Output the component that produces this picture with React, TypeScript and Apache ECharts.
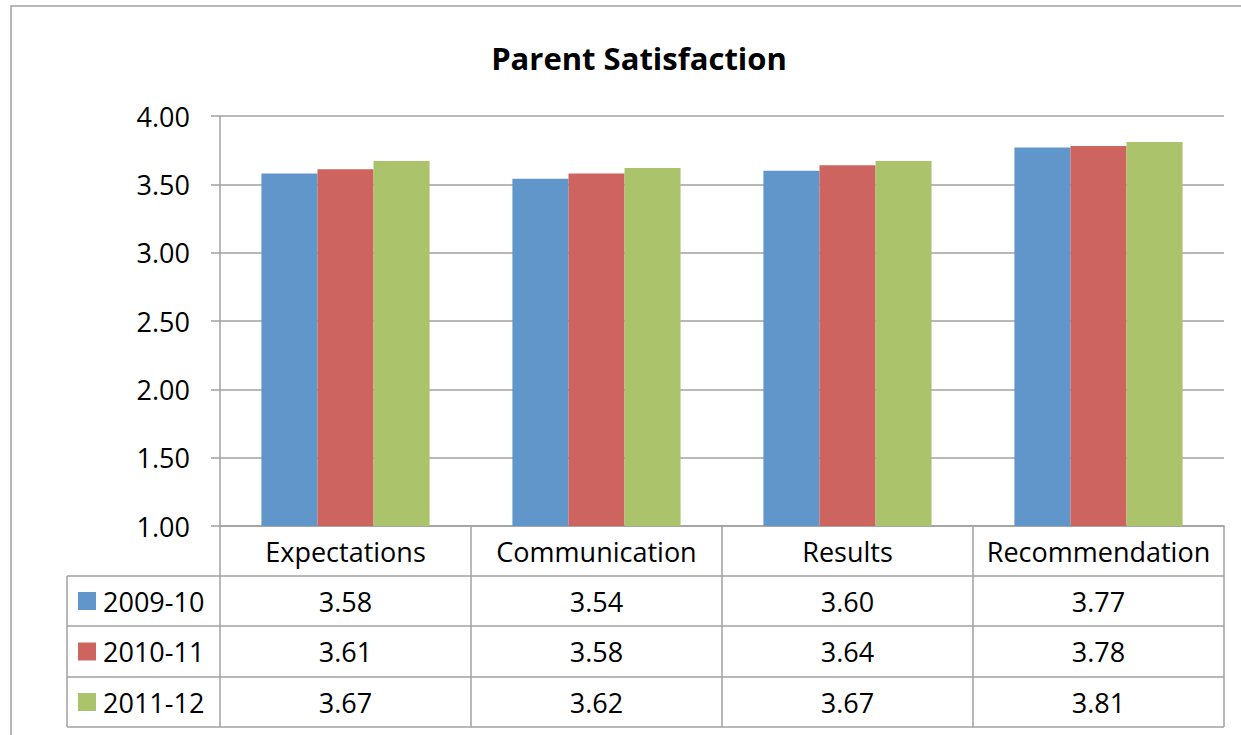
import React, { useEffect, useRef } from "react";
import * as echarts from "echarts";

const categories = ["Expectations", "Communication", "Results", "Recommendation"];
const seriesNames = ["2009-10", "2010-11", "2011-12"];
const values2009 = [3.58, 3.54, 3.6, 3.77];
const values2010 = [3.61, 3.58, 3.64, 3.78];
const values2011 = [3.67, 3.62, 3.67, 3.81];
const seriesValues = [values2009, values2010, values2011];
const colors = ["#6096C9", "#CD6460", "#ABC46B"];
const yTicks = { min: 1, max: 4, interval: 0.5 };

const FONT = "'Open Sans', sans-serif";
const FS = 27;
const GRID_L = 220;
const GRID_R = 1224;
const GRID_T = 116;
const GRID_B = 526;
const TABLE_L = 67;
const ROW_Y = [576, 626, 677, 727];
const LINE = "#A0A0A0";

export default function App() {
  const ref = useRef<HTMLDivElement>(null);
  useEffect(() => {
    if (!ref.current) return;
    const chart = echarts.init(ref.current, undefined, { renderer: "svg" });
    const band = (GRID_R - GRID_L) / categories.length;
    const graphics: any[] = [];
    graphics.push({
      type: "rect",
      shape: { x: 11, y: 6, width: 1247, height: 760 },
      style: { fill: "none", stroke: LINE, lineWidth: 1.5 },
      silent: true,
    });
    ROW_Y.forEach((y) => {
      graphics.push({
        type: "line",
        shape: { x1: TABLE_L, y1: y, x2: GRID_R, y2: y },
        style: { stroke: LINE, lineWidth: 1.5 },
        silent: true,
      });
    });
    graphics.push({
      type: "line",
      shape: { x1: TABLE_L, y1: ROW_Y[0], x2: TABLE_L, y2: ROW_Y[3] },
      style: { stroke: LINE, lineWidth: 1.5 },
      silent: true,
    });
    seriesNames.forEach((name, i) => {
      const cy = (ROW_Y[i] + ROW_Y[i + 1]) / 2;
      graphics.push({
        type: "rect",
        shape: { x: 78, y: cy - 9, width: 18, height: 18 },
        style: { fill: colors[i] },
        silent: true,
      });
      graphics.push({
        type: "text",
        x: 103,
        y: cy,
        style: {
          text: name,
          font: `${FS}px ${FONT}`,
          fill: "#000",
          textAlign: "left",
          textVerticalAlign: "middle",
        },
        silent: true,
      });
      seriesValues[i].forEach((v, j) => {
        graphics.push({
          type: "text",
          x: GRID_L + band * (j + 0.5),
          y: cy,
          style: {
            text: v.toFixed(2),
            font: `${FS}px ${FONT}`,
            fill: "#000",
            textAlign: "center",
            textVerticalAlign: "middle",
          },
          silent: true,
        });
      });
    });

    chart.setOption({
      animation: false,
      backgroundColor: "#fff",
      title: {
        text: "Parent Satisfaction",
        left: 634,
        top: 37,
        textAlign: "center",
        textStyle: { fontFamily: FONT, fontWeight: "bold", fontSize: 31, color: "#000" },
      },
      grid: {
        left: GRID_L,
        right: 1241 - GRID_R,
        top: GRID_T,
        bottom: 735 - GRID_B,
        containLabel: false,
      },
      xAxis: {
        type: "category",
        data: categories,
        axisLine: { show: true, lineStyle: { color: LINE, width: 1.5 } },
        axisTick: {
          show: true,
          interval: 0,
          alignWithLabel: false,
          length: ROW_Y[3] - GRID_B,
          lineStyle: { color: LINE, width: 1.5 },
        },
        axisLabel: {
          interval: 0,
          margin: 12,
          fontFamily: FONT,
          fontSize: FS,
          color: "#000",
        },
        splitLine: { show: false },
      },
      yAxis: {
        type: "value",
        min: yTicks.min,
        max: yTicks.max,
        interval: yTicks.interval,
        axisLine: { show: true, lineStyle: { color: LINE, width: 1.5 } },
        axisTick: { show: true, length: 9, lineStyle: { color: LINE, width: 1.5 } },
        axisLabel: {
          margin: 30,
          fontFamily: FONT,
          fontSize: FS,
          color: "#000",
          formatter: (v: number) => v.toFixed(2),
        },
        splitLine: { show: true, lineStyle: { color: LINE, width: 1.5 } },
      },
      series: seriesNames.map((name, i) => ({
        name,
        type: "bar",
        data: seriesValues[i],
        barGap: "0%",
        barCategoryGap: "33%",
        itemStyle: { color: colors[i] },
      })),
      graphic: graphics,
    });
    return () => chart.dispose();
  }, []);
  return (
    <div
      ref={ref}
      style={{ position: "fixed", left: 0, top: 0, width: 1241, height: 735, background: "#fff" }}
    />
  );
}
